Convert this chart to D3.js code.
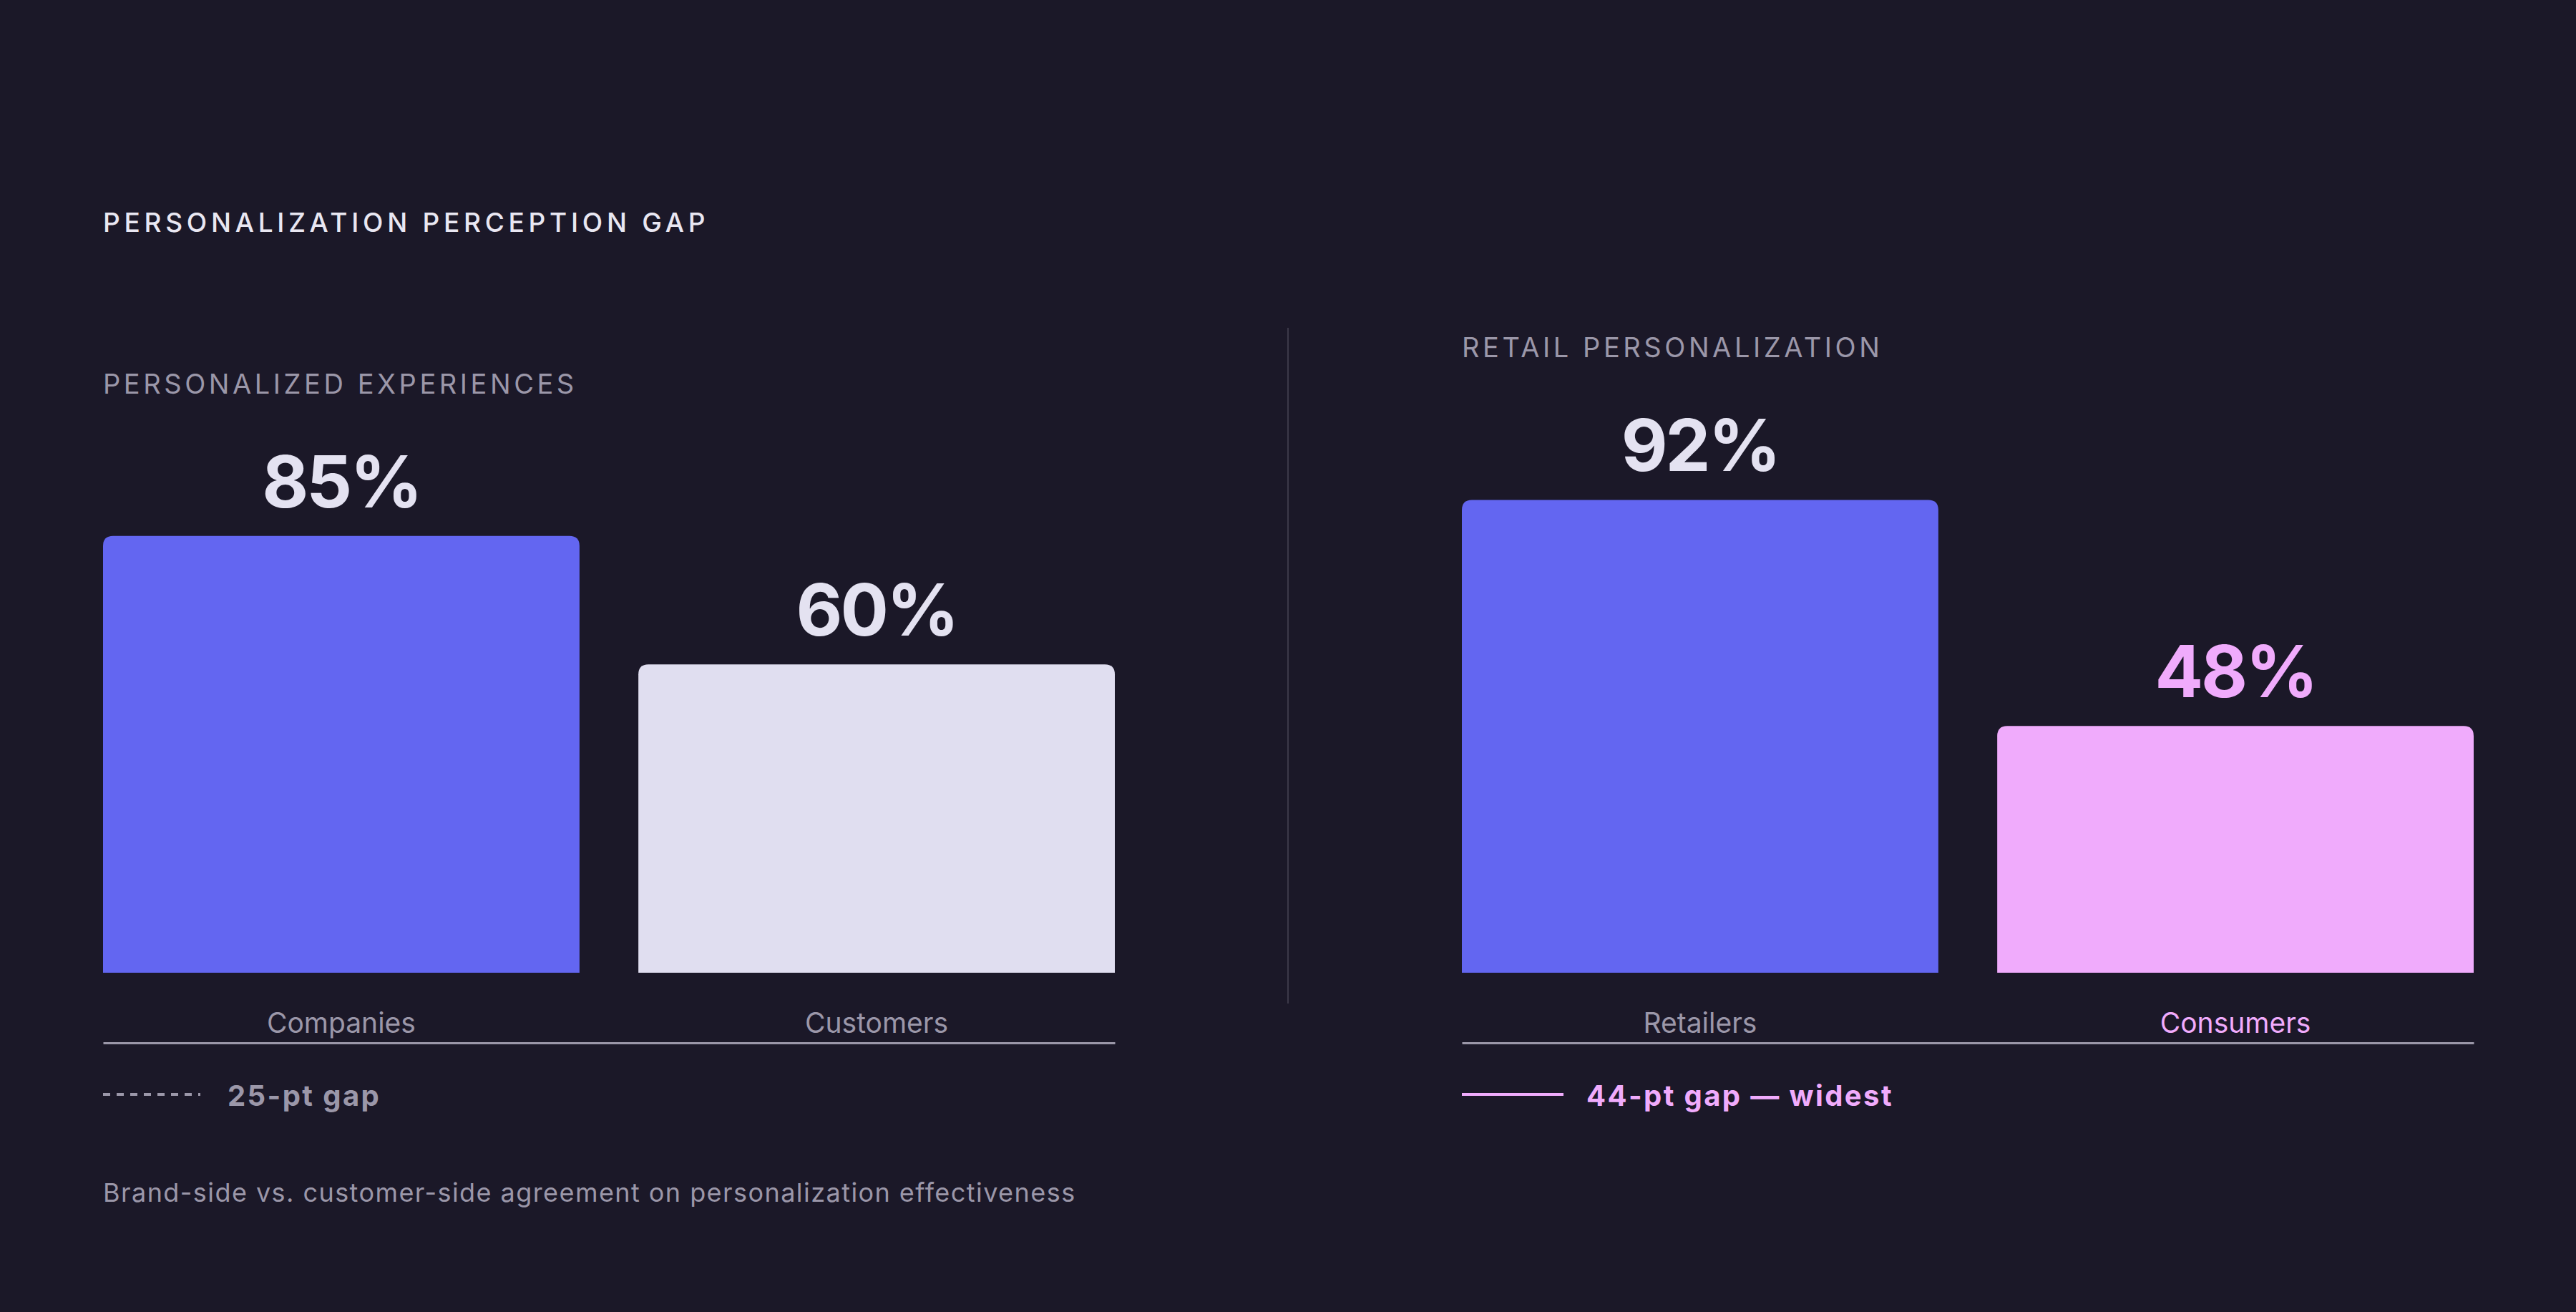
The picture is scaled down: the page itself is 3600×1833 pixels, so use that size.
<!DOCTYPE html>
<html>
<head>
<meta charset="utf-8">
<script src="https://cdn.jsdelivr.net/npm/d3@7"></script>
<style>
  body { margin: 0; background: #1b1828; }
  text { font-family: Inter, "Noto Sans", sans-serif; }
</style>
</head>
<body>
<div id="chart"></div>
<script>
var canvasWidth = 3600;
var canvasHeight = 1833;

// data
var chartTitle = "PERSONALIZATION PERCEPTION GAP";
var panelTitles = ["PERSONALIZED EXPERIENCES", "RETAIL PERSONALIZATION"];
var leftCategories = ["Companies", "Customers"];
var leftValues = [85, 60];
var rightCategories = ["Retailers", "Consumers"];
var rightValues = [92, 48];
var gapLabels = ["25-pt gap", "44-pt gap \u2014 widest"];
var footnote = "Brand-side vs. customer-side agreement on personalization effectiveness";

var bg = "#1b1828";
var indigo = "#6366f1";
var lilac = "#e0def0";
var pink = "#f0abfc";
var grey = "#9b97a9";

var svg = d3.select("#chart")
    .append("svg")
    .attr("width", canvasWidth)
    .attr("height", canvasHeight);

svg.append("rect")
    .attr("width", canvasWidth)
    .attr("height", canvasHeight)
    .attr("fill", bg);

/*Shared value scale for both panels*/
var yScale = d3.scaleLinear().domain([0, 100]).range([1359, 641]);

svg.append("text")
    .attr("x", 144)
    .attr("y", 324)
    .attr("fill", "#e9e7f2")
    .attr("font-size", 37)
    .attr("font-weight", 500)
    .attr("letter-spacing", "0.155em")
    .text(chartTitle);

/*divider between the two panels*/
svg.append("line")
    .attr("x1", 1800).attr("x2", 1800)
    .attr("y1", 458).attr("y2", 1402)
    .attr("stroke", "#3b3849")
    .attr("stroke-width", 2);

// bar with rounded top corners only
function topRounded(x, y, w, h, r) {
    r = Math.min(r, h);
    return "M" + x + "," + (y + h) +
        "V" + (y + r) +
        "Q" + x + "," + y + " " + (x + r) + "," + y +
        "H" + (x + w - r) +
        "Q" + (x + w) + "," + y + " " + (x + w) + "," + (y + r) +
        "V" + (y + h) + "Z";
}

function drawPanel(left, title, cats, vals, colors, valueColors, labelColors, gapText, gapStyle) {
    var g = svg.append("g").attr("transform", "translate(" + left + ",0)");
    var xScale = d3.scaleBand().domain(cats).range([0, 1414]).paddingInner(0.11);
    var data = cats.map(function(c, i) { return {cat: c, val: vals[i], i: i}; });
    var maxV = d3.max(vals);

    g.append("text")
        .attr("x", 0)
        .attr("y", yScale(maxV) - 199)
        .attr("fill", grey)
        .attr("font-size", 38)
        .attr("letter-spacing", "0.12em")
        .text(title);

    g.selectAll(".bar")
        .data(data)
        .join("path")
        .attr("class", "bar")
        .attr("fill", function(d) { return colors[d.i]; })
        .attr("d", function(d) {
            return topRounded(xScale(d.cat), yScale(d.val), xScale.bandwidth(), yScale(0) - yScale(d.val), 14);
        });

    g.selectAll(".val")
        .data(data)
        .join("text")
        .attr("class", "val")
        .attr("x", function(d) { return xScale(d.cat) + xScale.bandwidth() / 2; })
        .attr("y", function(d) { return yScale(d.val) - 40; })
        .attr("text-anchor", "middle")
        .attr("fill", function(d) { return valueColors[d.i]; })
        .attr("font-size", 100)
        .attr("font-weight", 700)
        .attr("letter-spacing", "-0.03em")
        .text(function(d) { return d.val + "%"; });

    /*category axis*/
    var axis = g.append("g")
        .attr("transform", "translate(0,1457)")
        .call(d3.axisBottom(xScale).tickSize(0).tickPadding(0));
    axis.select(".domain")
        .attr("stroke", grey)
        .attr("stroke-width", 3);
    axis.selectAll(".tick text")
        .attr("y", -14)
        .attr("dy", 0)
        .attr("font-size", 39)
        .attr("font-family", "Inter, 'Noto Sans', sans-serif")
        .attr("fill", function(d, i) { return labelColors[i]; });

    g.append("line")
        .attr("x1", 0).attr("x2", gapStyle.len)
        .attr("y1", 1529).attr("y2", 1529)
        .attr("stroke", gapStyle.color)
        .attr("stroke-width", 4)
        .attr("stroke-dasharray", gapStyle.dash);

    g.append("text")
        .attr("x", gapStyle.len + gapStyle.pad)
        .attr("y", 1545)
        .attr("fill", gapStyle.color)
        .attr("font-size", 40)
        .attr("font-weight", 700)
        .attr("letter-spacing", "0.06em")
        .text(gapText);
}

drawPanel(144, panelTitles[0], leftCategories, leftValues,
    [indigo, lilac], ["#e4e2f1", "#e4e2f1"], [grey, grey],
    gapLabels[0], {len: 136, pad: 38, color: grey, dash: "10,9"});

drawPanel(2043, panelTitles[1], rightCategories, rightValues,
    [indigo, pink], ["#e4e2f1", pink], [grey, pink],
    gapLabels[1], {len: 142, pad: 32, color: pink, dash: null});

svg.append("text")
    .attr("x", 144)
    .attr("y", 1679)
    .attr("fill", grey)
    .attr("font-size", 36)
    .attr("letter-spacing", "0.04em")
    .text(footnote);
</script>
</body>
</html>
